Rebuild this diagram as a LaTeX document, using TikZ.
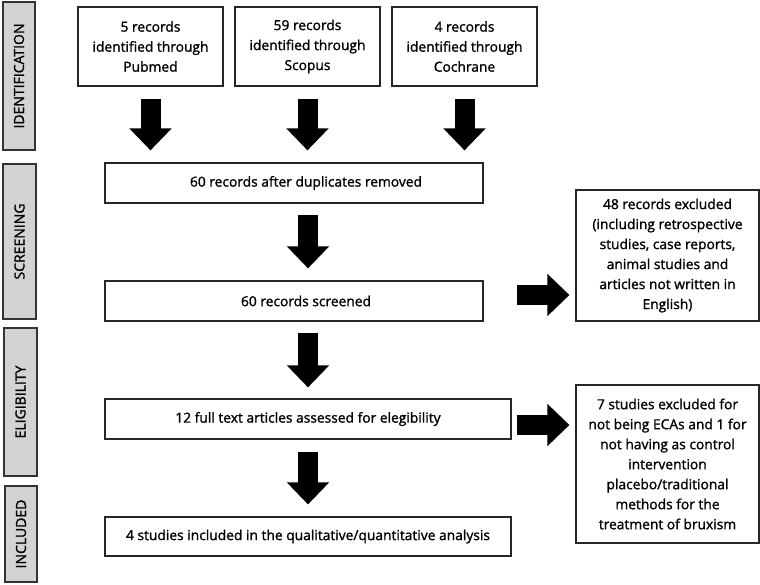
\documentclass[tikz,border=0pt]{standalone}
\usepackage{fontspec}
\setmainfont{Open Sans}
\newfontfamily\boxfont{Open Sans}[FakeBold=1.3]
\usetikzlibrary{arrows.meta}
\definecolor{sidegray}{HTML}{D3D3D3}
\tikzset{
  box/.style={draw=black!85, line width=1.2pt, fill=white, align=center, inner sep=2pt,
    font=\boxfont\fontsize{13.8}{20}\selectfont},
  side/.style={draw=black!80, line width=1.2pt, fill=sidegray, rotate=90,
    font=\boxfont\fontsize{14}{16}\selectfont, inner sep=0pt},
  bigarrow/.style={draw=black, line width=20pt,
    -{Triangle[width=41pt,length=22pt]}},
}
\begin{document}
\begin{tikzpicture}[x=1pt,y=1pt]
\useasboundingbox (0,0) rectangle (760,-584);
% side labels
\node[side, minimum width=148pt, minimum height=32pt] (sid) at (19,-76) {IDENTIFICATION};
\node[side, minimum width=155pt, minimum height=33pt] (ssc) at (19.5,-241.5) {SCREENING};
\node[side, minimum width=148pt, minimum height=33pt] (sel) at (20.5,-402) {ELIGIBILITY};
\node[side, minimum width=96pt, minimum height=32pt] (sin) at (21,-534) {INCLUDED};
% boxes
\node[box, minimum width=145pt, minimum height=79pt] (pub) at (150.5,-46.5) {5 records\\identified through\\Pubmed};
\node[box, minimum width=145pt, minimum height=79pt] (sco) at (307.5,-46.5) {59 records\\identified through\\Scopus};
\node[box, minimum width=145pt, minimum height=79pt] (coc) at (464.5,-46.5) {4 records\\identified through\\Cochrane};
\node[box, minimum width=378pt, minimum height=40pt] (dup) at (294,-183) {\hspace*{24pt}60 records after duplicates removed};
\node[box, minimum width=378pt, minimum height=40pt] (scr) at (294,-301) {\hspace*{24pt}60 records screened};
\node[box, minimum width=183pt, minimum height=131pt] (ex1) at (667.5,-255.5) {48 records excluded\\(including retrospective\\studies, case reports,\\animal studies and\\articles not written in\\English)};
\node[box, minimum width=406pt, minimum height=40pt] (full) at (308,-419) {12 full text articles assessed for elegibility};
\node[box, minimum width=406pt, minimum height=39pt] (inc) at (308,-536.5) {4 studies included in the qualitative/quantitative analysis};
\node[box, minimum width=183pt, minimum height=158pt] (ex2) at (667.5,-464) {7 studies excluded for\\not being ECAs and 1 for\\not having as control\\intervention\\placebo/traditional\\methods for the\\treatment of bruxism};
% arrows
\draw[bigarrow, shorten <=12pt, shorten >=12pt] (pub.south) -- (pub.south |- dup.north);
\draw[bigarrow, shorten <=12pt, shorten >=12pt] (sco.south) -- (sco.south |- dup.north);
\draw[bigarrow, shorten <=12pt, shorten >=12pt] (coc.south) -- (coc.south |- dup.north);
\draw[bigarrow, shorten <=11pt, shorten >=12pt] (dup.south -| full.south) -- (full.north |- scr.north);
\draw[bigarrow, shorten <=11pt, shorten >=11pt] (scr.south -| full.north) -- (full.north);
\draw[bigarrow, shorten <=12pt, shorten >=12pt] (full.south) -- (inc.north);
\draw[bigarrow, shorten <=33pt, shorten >=6pt] ([yshift=6pt]scr.east) -- ([yshift=6pt]scr.east -| ex1.west);
\draw[bigarrow, shorten <=5pt, shorten >=6pt] ([yshift=-6pt]full.east) -- ([yshift=-6pt]full.east -| ex2.west);
\end{tikzpicture}
\end{document}
